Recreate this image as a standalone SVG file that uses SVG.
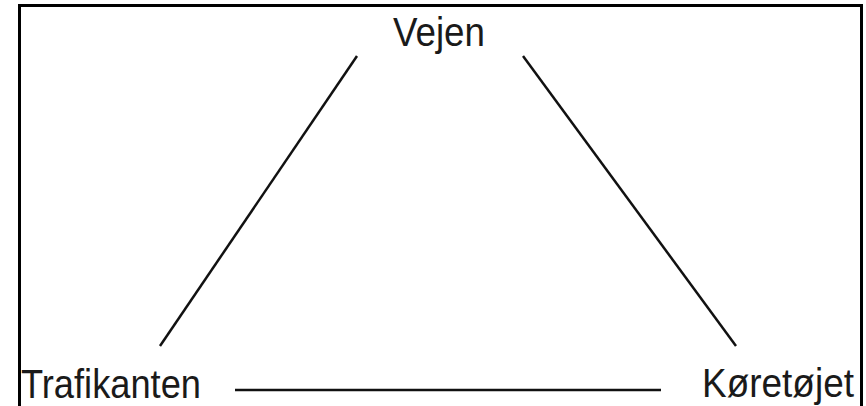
<svg xmlns="http://www.w3.org/2000/svg" width="866" height="406" viewBox="0 0 866 406">
<style>
.lbl{font-family:"Liberation Sans",Arial,sans-serif;font-size:40px;fill:#1a1a1a}
.edge{stroke:#111;stroke-width:2.5;fill:none;stroke-linecap:butt}
.frame{stroke:#000;stroke-width:3;fill:none}
</style>
<rect width="866" height="406" fill="#fff"/>
<path class="frame" d="M19.5,407 V5.5 H861.5 V407"/>
<g id="vejen"><text class="lbl" x="393" y="46" textLength="92" lengthAdjust="spacingAndGlyphs">Vejen</text></g>
<g id="trafikanten"><text class="lbl" x="21" y="398" textLength="180" lengthAdjust="spacingAndGlyphs">Trafikanten</text></g>
<g id="koretojet"><text class="lbl" x="702" y="397" textLength="152" lengthAdjust="spacingAndGlyphs">Køretøjet</text></g>
<g id="connectors">
<line class="edge" x1="357" y1="56" x2="160" y2="346"/>
<line class="edge" x1="523" y1="56" x2="736" y2="346"/>
<line class="edge" x1="235" y1="390" x2="661" y2="390"/>
</g>
</svg>
